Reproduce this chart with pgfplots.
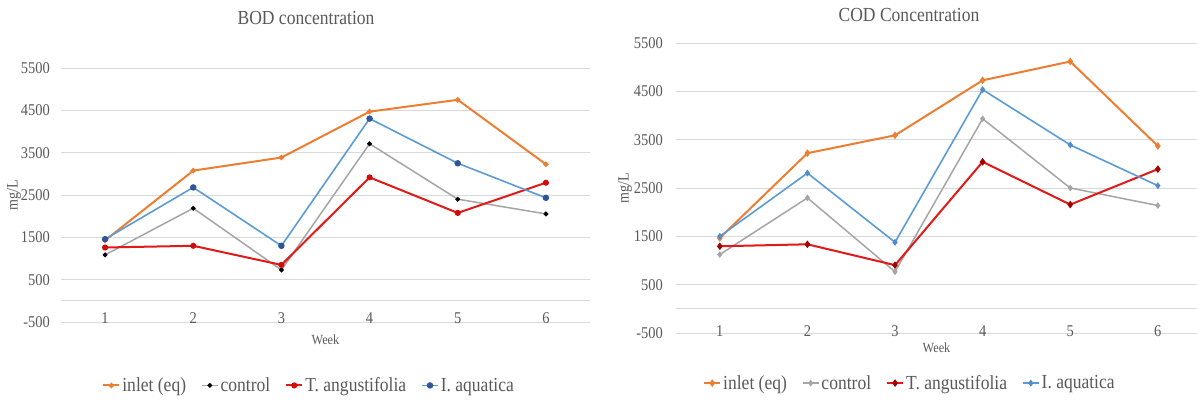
\documentclass[border=0pt]{standalone}
\usepackage{pgfplots}
\pgfplotsset{compat=1.18}
\usepackage{fontspec}
\setmainfont{Liberation Serif}[FakeStretch=0.88]
\definecolor{inletc}{RGB}{237,125,49}
\definecolor{ctrlc}{RGB}{165,165,165}
\definecolor{redc}{RGB}{225,25,25}
\definecolor{redm}{RGB}{210,10,10}
\definecolor{redm2}{RGB}{160,0,0}
\definecolor{bluec}{RGB}{91,155,213}
\definecolor{bluem}{RGB}{47,85,151}
\definecolor{bluem2}{RGB}{80,140,205}
\definecolor{txtc}{RGB}{89,89,89}
\definecolor{gridc}{RGB}{217,217,217}
\pgfplotsset{
  mystyle/.style={
    scale only axis,
    axis line style={draw=none},
    tick style={draw=none},
    ymin=-500, ymax=5500,
    ytick={-500,500,1500,2500,3500,4500,5500},
    extra y ticks={0}, extra y tick labels={},
    extra y tick style={ymajorgrids=true},
    ymajorgrids,
    grid style={gridc, line width=1bp},
    xtick={1,2,3,4,5,6},
    /pgf/number format/assume math mode=true,
    /pgf/number format/1000 sep={},
    ticklabel style={font=\fontsize{16.5}{18}\selectfont, text=txtc},
    xticklabel style={anchor=center},
    yticklabel style={anchor=east, inner sep=0pt},
    xlabel style={font=\fontsize{14}{16}\selectfont, text=txtc},
    ylabel style={font=\fontsize{16}{18}\selectfont, text=txtc},
    legend columns=4,
    legend cell align=left,
    legend style={draw=none, fill=none, font=\fontsize{20}{22}\selectfont, text=txtc,
      /tikz/every even column/.append style={column sep=13bp},
      inner sep=0pt},
    legend image code/.code={\draw[##1, mark repeat=2, mark phase=2] plot coordinates {(0bp,0bp) (8bp,0bp) (16bp,0bp)};},
  }
}
\begin{document}
\begin{tikzpicture}
\useasboundingbox (0bp,0bp) rectangle (1197bp,401bp);
% ---------- Left: BOD ----------
\begin{axis}[mystyle,
  at={(61bp,79bp)}, anchor=south west,
  width=529bp, height=253.7bp,
  xmin=0.5, xmax=6.5,
  xticklabel style={yshift=4bp},
  yticklabel style={xshift=-11bp},
  xlabel={Week}, xlabel style={at={(axis description cs:0.5,-0.071)}, anchor=center},
  ylabel={mg/L}, ylabel style={at={(axis description cs:-0.0888,0.5)}, anchor=center},
  legend style={at={(axis description cs:0.469,-0.250)}, anchor=center},
]
\addplot[inletc, line width=2bp, mark=*, mark size=1.6bp, mark options={fill=inletc, draw=inletc}]
  coordinates {(1,1430) (2,3080) (3,3390) (4,4475) (5,4755) (6,3230)};
\addplot[ctrlc, line width=1.5bp, mark=*, mark size=1.6bp, mark options={fill=black, draw=black}]
  coordinates {(1,1087) (2,2190) (3,730) (4,3715) (5,2405) (6,2056)};
\addplot[redc, line width=2bp, mark=*, mark size=2bp, mark options={fill=redm, draw=redm}]
  coordinates {(1,1262) (2,1302) (3,850) (4,2920) (5,2080) (6,2794)};
\addplot[bluec, line width=1.6bp, mark=*, mark size=2.4bp, mark options={fill=bluem, draw=bluem}]
  coordinates {(1,1460) (2,2683) (3,1302) (4,4310) (5,3254) (6,2437)};
\legend{inlet (eq), control, T. angustifolia, I. aquatica}
\end{axis}
\node[font=\fontsize{20}{22}\selectfont, text=txtc] at (306bp,383bp) {BOD concentration};
% ---------- Right: COD ----------
\begin{axis}[mystyle,
  at={(676bp,68bp)}, anchor=south west,
  width=521bp, height=289.7bp,
  xmin=0.5, xmax=6.447,
  xticklabel style={yshift=2bp},
  yticklabel style={xshift=-13bp},
  xlabel={Week}, xlabel style={at={(axis description cs:0.5,-0.052)}, anchor=center},
  ylabel={mg/L}, ylabel style={at={(axis description cs:-0.0979,0.5)}, anchor=center},
  legend style={at={(axis description cs:0.449,-0.173)}, anchor=center},
]
\addplot[inletc, line width=2bp, mark=diamond*, mark size=2.2bp, mark options={fill=inletc, draw=inletc}]
  coordinates {(1,1468) (2,3224) (3,3594) (4,4733) (5,5123) (6,3374)};
\addplot[ctrlc, line width=1.5bp, mark=diamond*, mark size=2.2bp, mark options={fill=ctrlc, draw=ctrlc}]
  coordinates {(1,1125) (2,2298) (3,768) (4,3937) (5,2503) (6,2140)};
\addplot[redc, line width=2bp, mark=diamond*, mark size=2.2bp, mark options={fill=redm2, draw=redm2}]
  coordinates {(1,1296) (2,1337) (3,905) (4,3045) (5,2160) (6,2894)};
\addplot[bluec, line width=1.6bp, mark=diamond*, mark size=2.2bp, mark options={fill=bluem2, draw=bluem2}]
  coordinates {(1,1502) (2,2812) (3,1379) (4,4540) (5,3395) (6,2551)};
\legend{inlet (eq), control, T. angustifolia, I. aquatica}
\end{axis}
\node[font=\fontsize{20}{22}\selectfont, text=txtc] at (909bp,386bp) {COD Concentration};
\end{tikzpicture}
\end{document}
